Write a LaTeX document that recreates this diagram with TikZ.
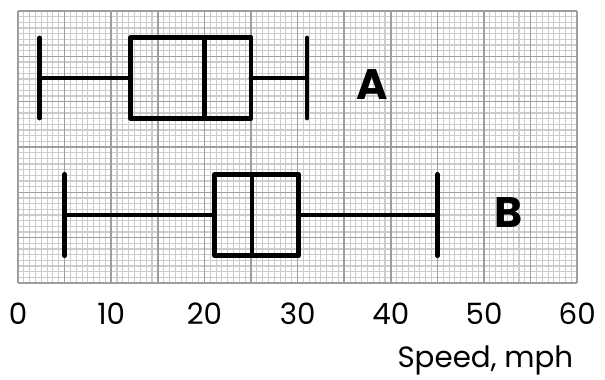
\documentclass[tikz,border=0pt]{standalone}
\usepackage{fontspec}
\setmainfont{Poppins}
\tikzset{
  minorline/.style={draw=black!20, line width=0.8pt},
  majorline/.style={draw=black!38, line width=1.2pt},
  plotline/.style={line width=3.6pt, line cap=round, line join=round},
  ticklabel/.style={font=\fontsize{22}{24}\selectfont, inner sep=0},
  boxname/.style={font=\fontsize{32}{34}\selectfont\bfseries, inner sep=0}
}
\begin{document}
\begin{tikzpicture}[x=6.99pt,y=-0.75pt]
\useasboundingbox (-1.93,0) rectangle (62.98,379);

% grid paper
\foreach \i in {0,...,96}
  \draw [minorline] (\i*0.625,11) -- (\i*0.625,283);
\foreach \j in {0,...,48}
  \draw [minorline] (0,11+\j*5.6667) -- (60,11+\j*5.6667);
\foreach \i in {0,5,...,60}
  \draw [majorline] (\i,11) -- (\i,283);
\foreach \j in {0,...,6}
  \draw [majorline] (0,11+\j*45.333) -- (60,11+\j*45.333);

% plot A
\coordinate (amin) at (2.3,78);
\coordinate (aq1) at (12.1,78);
\coordinate (amed) at (20,78);
\coordinate (aq3) at (25,78);
\coordinate (amax) at (31,78);
\draw [plotline] ([yshift=-30pt]amin) -- ([yshift=30pt]amin);
\draw [plotline] ([yshift=-30pt]amax) -- ([yshift=30pt]amax);
\draw [plotline] (amin) -- (aq1);
\draw [plotline] (aq3) -- (amax);
\draw [plotline] ([yshift=30.5pt]aq1) rectangle ([yshift=-30.5pt]aq3);
\draw [plotline] ([yshift=30.5pt]amed) -- ([yshift=-30.5pt]amed);
\node [boxname] (la) at (38,85) {A};

% plot B
\coordinate (bmin) at (5,215);
\coordinate (bq1) at (21.1,215);
\coordinate (bmed) at (25.1,215);
\coordinate (bq3) at (30.1,215);
\coordinate (bmax) at (45,215);
\draw [plotline] ([yshift=-30.5pt]bmin) -- ([yshift=30.5pt]bmin);
\draw [plotline] ([yshift=-30.5pt]bmax) -- ([yshift=30.5pt]bmax);
\draw [plotline] (bmin) -- (bq1);
\draw [plotline] (bq3) -- (bmax);
\draw [plotline] ([yshift=30.5pt]bq1) rectangle ([yshift=-30.5pt]bq3);
\draw [plotline] ([yshift=30.5pt]bmed) -- ([yshift=-30.5pt]bmed);
\node [boxname] (lb) at (52.6,213) {B};

% axis
\foreach \v in {0,10,...,60}
  \node [ticklabel] (t\v) at (\v,314) {\v};
\node [ticklabel, anchor=east] (xlabel) at (59.6,360) {Speed, mph};
\end{tikzpicture}
\end{document}
